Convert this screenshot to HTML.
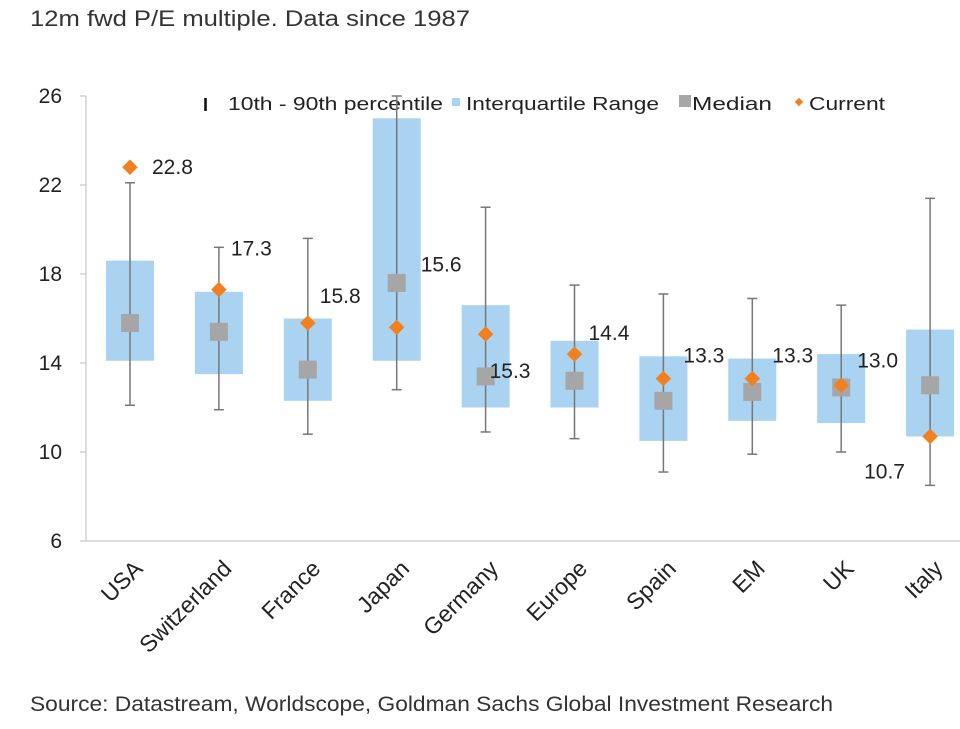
<!DOCTYPE html>
<html><head><meta charset="utf-8"><style>
body{margin:0;background:#fff;width:960px;height:724px;overflow:hidden;font-family:"Liberation Sans",sans-serif}
</style></head><body>
<svg id="c" width="960" height="724" xmlns="http://www.w3.org/2000/svg">
<text x="30" y="26" font-size="22" fill="#333" textLength="440" lengthAdjust="spacingAndGlyphs">12m fwd P/E multiple. Data since 1987</text>
<text x="30" y="711" font-size="21" fill="#333" textLength="803" lengthAdjust="spacingAndGlyphs">Source: Datastream, Worldscope, Goldman Sachs Global Investment Research</text>
<g id="legend">
<text x="203" y="111" font-size="18" font-weight="bold" fill="#111">I</text>
<text x="228" y="110" font-size="18" fill="#222" textLength="215" lengthAdjust="spacingAndGlyphs">10th - 90th percentile</text>
<rect x="452" y="98" width="8" height="8" fill="#a9d3f0"/>
<text x="466" y="110" font-size="18" fill="#222" textLength="193" lengthAdjust="spacingAndGlyphs">Interquartile Range</text>
<rect x="679" y="95" width="12" height="12" fill="#a6a6a6"/>
<text x="692" y="110" font-size="18" fill="#222" textLength="80" lengthAdjust="spacingAndGlyphs">Median</text>
<rect x="796" y="99" width="6" height="6" fill="#f28020" transform="rotate(45 799 102)"/>
<text x="809" y="110" font-size="18" fill="#222" textLength="76" lengthAdjust="spacingAndGlyphs">Current</text>
</g>
</svg>
<script>
const categories=["USA","Switzerland","France","Japan","Germany","Europe","Spain","EM","UK","Italy"];
const p10=[12.1,11.9,10.8,12.8,10.9,10.6,9.1,9.9,10.0,8.5];
const p90=[22.1,19.2,19.6,26,21.0,17.5,17.1,16.9,16.6,21.4];
const q1=[14.1,13.5,12.3,14.1,12.0,12.0,10.5,11.4,11.3,10.7];
const q3=[18.6,17.2,16.0,25.0,16.6,15.0,14.3,14.2,14.4,15.5];
const median=[15.8,15.4,13.7,17.6,13.4,13.2,12.3,12.7,12.9,13.0];
const current=[22.8,17.3,15.8,15.6,15.3,14.4,13.3,13.3,13.0,10.7];
const yTicks=[6,10,14,18,22,26];
const labelDx=[22,12,12,24,4,14,20,20,16,-66];
const labelDy=[7,-34,-20,-56,44,-14,-16,-16,-18,42];
const svg=document.getElementById('c');const NS='http://www.w3.org/2000/svg';
const y=v=>541-(v-6)*22.25;const x=i=>130+i*88.9;
function mk(t,a,p){const e=document.createElementNS(NS,t);for(const k in a)e.setAttribute(k,a[k]);(p||svg).appendChild(e);return e;}
const ax=mk('g',{});


mk('line',{x1:86,y1:96,x2:86,y2:541,stroke:'#bbb'},ax);
mk('line',{x1:86,y1:541,x2:960,y2:541,stroke:'#bbb'},ax);
yTicks.forEach(t=>{mk('line',{x1:80,y1:y(t),x2:86,y2:y(t),stroke:'#bbb'},ax);
const tx=mk('text',{x:62,y:y(t)+7,'font-size':21,fill:'#222','text-anchor':'end'},ax);tx.textContent=t;

});
categories.forEach((c,i)=>{
const g=mk('g',{});


const cx=x(i);
const b=mk('rect',{x:cx-24,y:y(q3[i]),width:48,height:y(q1[i])-y(q3[i]),fill:'#a9d3f0'},g);


const w=mk('line',{x1:cx,x2:cx,y1:y(p90[i]),y2:y(p10[i]),stroke:'#777','stroke-width':1.5},g);


[p10[i],p90[i]].forEach(v=>{const cap=mk('line',{x1:cx-5,x2:cx+5,y1:y(v),y2:y(v),stroke:'#777','stroke-width':1.5},g);

});
const m=mk('rect',{x:cx-9,y:y(median[i])-9,width:18,height:18,fill:'#a6a6a6'},g);


const cy=y(current[i]);
const d=mk('rect',{x:cx-5.5,y:cy-5.5,width:11,height:11,fill:'#f28020',transform:`rotate(45 ${cx} ${cy})`},g);


const l=mk('text',{x:cx+labelDx[i],y:cy+labelDy[i],'font-size':21,fill:'#222'},g);l.textContent=current[i].toFixed(1);


const xl=mk('text',{x:cx+14,y:570,'font-size':23,fill:'#222','text-anchor':'end',transform:`rotate(-45 ${cx+14} 570)`},g);xl.textContent=c;


});
</script>
</body></html>
